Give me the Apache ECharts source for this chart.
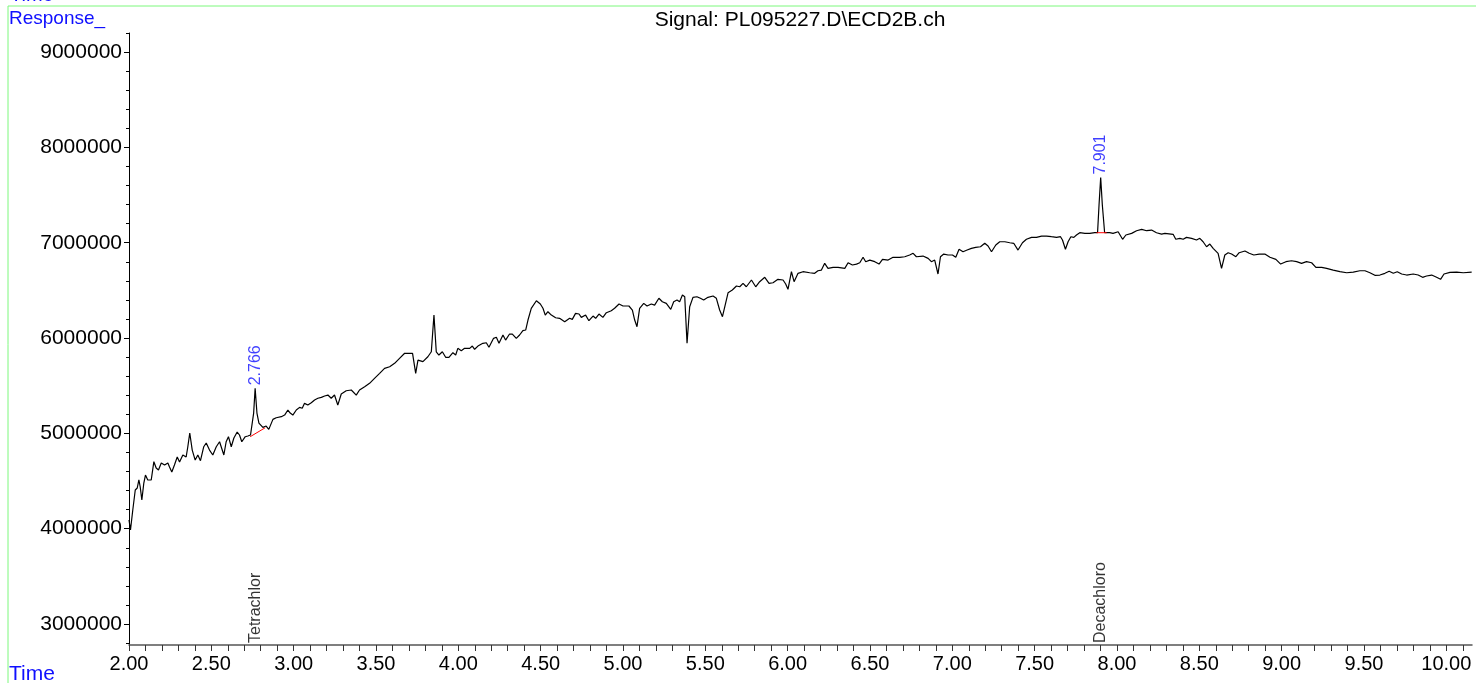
<!DOCTYPE html>
<html><head><meta charset="utf-8">
<script src="https://cdn.jsdelivr.net/npm/echarts@6/dist/echarts.min.js"></script>
<style>html,body{margin:0;padding:0;background:#fff;overflow:hidden}#c{width:1476px;height:683px}</style>
</head><body><div id="c"></div><script>
// Retention time (min)
const times = [
2.000,2.009,2.023,2.038,2.050,2.060,2.068,2.078,2.090,2.100,
2.114,2.135,2.151,2.165,2.179,2.196,2.216,2.236,2.246,2.260,
2.276,2.293,2.307,2.327,2.347,2.357,2.369,2.384,2.402,2.418,
2.434,2.454,2.469,2.489,2.509,2.530,2.550,2.576,2.590,2.604,
2.621,2.637,2.657,2.671,2.685,2.706,2.722,2.738,2.748,2.757,
2.766,2.777,2.789,2.813,2.833,2.849,2.874,2.894,2.925,2.945,
2.965,2.979,2.995,3.016,3.036,3.052,3.066,3.086,3.107,3.127,
3.147,3.168,3.188,3.208,3.228,3.248,3.268,3.289,3.319,3.350,
3.380,3.400,3.431,3.461,3.491,3.522,3.552,3.583,3.613,3.643,
3.674,3.704,3.722,3.741,3.755,3.785,3.815,3.836,3.852,3.866,
3.882,3.903,3.923,3.943,3.967,3.984,3.997,4.018,4.038,4.069,
4.085,4.099,4.119,4.149,4.170,4.186,4.214,4.231,4.247,4.271,
4.287,4.311,4.328,4.352,4.372,4.392,4.409,4.423,4.443,4.474,
4.498,4.514,4.528,4.544,4.565,4.591,4.615,4.646,4.676,4.692,
4.712,4.733,4.747,4.773,4.793,4.818,4.834,4.854,4.878,4.899,
4.929,4.949,4.976,5.000,5.036,5.057,5.071,5.085,5.101,5.126,
5.146,5.172,5.192,5.218,5.239,5.263,5.290,5.308,5.328,5.344,
5.361,5.375,5.389,5.405,5.425,5.449,5.470,5.490,5.516,5.547,
5.567,5.587,5.604,5.618,5.638,5.664,5.689,5.709,5.729,5.749,
5.780,5.806,5.830,5.861,5.887,5.911,5.941,5.972,5.988,6.002,
6.023,6.039,6.063,6.093,6.134,6.164,6.184,6.205,6.225,6.245,
6.276,6.306,6.347,6.367,6.393,6.418,6.438,6.458,6.474,6.499,
6.529,6.555,6.576,6.610,6.640,6.681,6.711,6.741,6.762,6.782,
6.822,6.853,6.873,6.893,6.913,6.928,6.948,6.974,7.001,7.021,
7.041,7.065,7.090,7.116,7.142,7.171,7.197,7.217,7.238,7.264,
7.288,7.319,7.349,7.373,7.399,7.426,7.450,7.481,7.511,7.542,
7.572,7.602,7.633,7.657,7.669,7.687,7.703,7.720,7.738,7.754,
7.774,7.805,7.835,7.865,7.882,7.891,7.901,7.911,7.925,7.956,
7.976,8.007,8.034,8.054,8.089,8.119,8.150,8.180,8.210,8.240,
8.271,8.291,8.341,8.357,8.382,8.402,8.422,8.453,8.483,8.503,
8.523,8.544,8.564,8.584,8.614,8.635,8.655,8.675,8.696,8.722,
8.742,8.777,8.803,8.831,8.864,8.898,8.929,8.965,8.994,9.026,
9.060,9.091,9.121,9.151,9.182,9.208,9.243,9.273,9.313,9.354,
9.395,9.435,9.475,9.506,9.536,9.566,9.597,9.627,9.653,9.678,
9.702,9.729,9.759,9.799,9.829,9.856,9.880,9.911,9.941,9.965,
9.986,10.022,10.063,10.103,10.154
];
// Detector response
const signal = [
4091000,3986000,4196000,4406000,4427000,4511000,4440000,4301000,4479000,4563000,
4511000,4511000,4703000,4636000,4615000,4689000,4668000,4689000,4647000,4594000,
4668000,4752000,4699000,4773000,4752000,4857000,5004000,4825000,4720000,4773000,
4713000,4860000,4899000,4825000,4773000,4860000,4912000,4773000,4912000,4965000,
4860000,4951000,5014000,4983000,4912000,4965000,4972000,4983000,5000000,5213000,
5473000,5213000,5108000,5063000,5077000,5042000,5147000,5164000,5175000,5192000,
5245000,5213000,5192000,5245000,5273000,5263000,5315000,5297000,5321000,5350000,
5368000,5378000,5392000,5402000,5368000,5402000,5297000,5413000,5447000,5455000,
5402000,5455000,5489000,5525000,5577000,5630000,5682000,5699000,5735000,5787000,
5840000,5840000,5840000,5630000,5769000,5752000,5804000,5856000,6241000,5856000,
5822000,5856000,5798000,5798000,5846000,5822000,5892000,5867000,5892000,5892000,
5916000,5882000,5916000,5945000,5951000,5903000,5997000,6008000,5945000,6032000,
5979000,6042000,6042000,5997000,6032000,6077000,6084000,6189000,6312000,6391000,
6357000,6312000,6241000,6276000,6241000,6213000,6207000,6171000,6207000,6196000,
6259000,6252000,6217000,6241000,6182000,6231000,6207000,6252000,6217000,6266000,
6287000,6312000,6357000,6336000,6336000,6294000,6189000,6119000,6312000,6364000,
6336000,6357000,6346000,6417000,6381000,6364000,6301000,6381000,6399000,6381000,
6451000,6433000,5945000,6328000,6427000,6433000,6417000,6399000,6427000,6441000,
6417000,6294000,6224000,6328000,6475000,6504000,6546000,6538000,6574000,6538000,
6609000,6538000,6591000,6637000,6574000,6580000,6616000,6609000,6567000,6511000,
6696000,6591000,6679000,6696000,6685000,6679000,6706000,6713000,6784000,6731000,
6742000,6742000,6731000,6790000,6766000,6776000,6790000,6847000,6801000,6818000,
6801000,6776000,6826000,6818000,6847000,6847000,6853000,6871000,6889000,6853000,
6860000,6836000,6801000,6818000,6672000,6853000,6881000,6871000,6871000,6847000,
6931000,6905000,6923000,6941000,6952000,6958000,6994000,6965000,6905000,6976000,
7010000,7010000,7000000,6994000,6923000,7000000,7036000,7056000,7056000,7070000,
7070000,7063000,7056000,7063000,7028000,6931000,7010000,7063000,7056000,7081000,
7105000,7098000,7098000,7105000,7105000,7395000,7684000,7395000,7105000,7105000,
7098000,7115000,7036000,7081000,7098000,7126000,7140000,7126000,7133000,7105000,
7091000,7098000,7088000,7036000,7046000,7036000,7056000,7046000,7028000,7046000,
7010000,6958000,6986000,6941000,6889000,6731000,6871000,6895000,6881000,6853000,
6895000,6913000,6889000,6871000,6881000,6881000,6847000,6826000,6776000,6801000,
6811000,6801000,6784000,6801000,6790000,6742000,6742000,6731000,6713000,6696000,
6685000,6692000,6706000,6706000,6685000,6658000,6661000,6679000,6700000,6679000,
6696000,6672000,6661000,6672000,6661000,6637000,6651000,6661000,6637000,6616000,
6672000,6689000,6692000,6685000,6692000
];
// Integrated peaks
const peakTimes = [2.766, 7.901];
const peakValues = [5473000, 7684000];
const peakLabels = ['2.766', '7.901'];
const compoundNames = ['Tetrachlor', 'Decachloro'];
// Integration baselines (start/end time and response)
const baseline1Times = [2.736, 2.827];
const baseline1Values = [4965000, 5059000];
const baseline2Times = [7.876, 7.937];
const baseline2Values = [7105000, 7105000];
// Axes
const xMin = 2.0, xMax = 10.156;
const yMin = 2780000, yMax = 9200000;
const xTickLabels = [2.0, 2.5, 3.0, 3.5, 4.0, 4.5, 5.0, 5.5, 6.0, 6.5, 7.0, 7.5, 8.0, 8.5, 9.0, 9.5, 10.0];
const yTickLabels = [3000000, 4000000, 5000000, 6000000, 7000000, 8000000, 9000000];
const xMinorTicks = [];
for (let i = 20; i <= 101; i++) xMinorTicks.push(i / 10);
const yMinorTicks = [];
for (let i = 14; i <= 46; i++) yMinorTicks.push(i * 200000);

const FONT = 'Liberation Sans, Arial, Helvetica, sans-serif';
const BLUE = '#0f0fff';
const n = Math.min(times.length, signal.length);
const trace = [];
for (let i = 0; i < n; i++) trace.push([times[i], signal[i]]);
const zip = (a, b) => a.map((v, i) => [v, b[i]]);

const chart = echarts.init(document.getElementById('c'), null, {renderer: 'canvas'});
chart.setOption({
  animation: false,
  backgroundColor: '#fff',
  grid: {left: 129, right: 4, top: 33, bottom: 38, containLabel: false},
  xAxis: {
    type: 'value', min: xMin, max: xMax,
    axisLine: {show: true, onZero: false, lineStyle: {color: '#555', width: 1.5}},
    axisTick: {show: true, inside: false, length: 6, customValues: xMinorTicks, lineStyle: {color: '#333', width: 1}},
    axisLabel: {show: true, customValues: xTickLabels, margin: 9, color: '#000', fontSize: 20, fontFamily: FONT,
      formatter: v => v.toFixed(2)},
    splitLine: {show: false}
  },
  yAxis: [{
    type: 'value', min: yMin, max: yMax, position: 'left',
    axisLine: {show: true, onZero: false, lineStyle: {color: '#000', width: 1}},
    axisTick: {show: true, length: 5, customValues: yTickLabels, lineStyle: {color: '#000'}},
    axisLabel: {show: true, customValues: yTickLabels, margin: 7, color: '#000', fontSize: 21, fontFamily: FONT,
      formatter: v => String(v)},
    splitLine: {show: false}
  }, {
    type: 'value', min: yMin, max: yMax, position: 'left',
    axisLine: {show: false},
    axisTick: {show: true, length: 3, customValues: yMinorTicks, lineStyle: {color: '#000'}},
    axisLabel: {show: false},
    splitLine: {show: false}
  }],
  series: [{
    type: 'line', data: trace, showSymbol: false, symbol: 'none', smooth: false,
    lineStyle: {color: '#000', width: 1.2}, z: 3
  }, {
    type: 'line', data: zip(baseline1Times, baseline1Values), showSymbol: false, symbol: 'none',
    lineStyle: {color: '#ff0000', width: 1}, z: 4
  }, {
    type: 'line', data: zip(baseline2Times, baseline2Values), showSymbol: false, symbol: 'none',
    lineStyle: {color: '#ff0000', width: 1}, z: 4
  }, {
    type: 'scatter', data: zip(peakTimes, peakValues), symbolSize: 0, clip: false, silent: true,
    label: {show: true, position: 'top', distance: 3, rotate: 90, align: 'left', verticalAlign: 'middle',
      color: BLUE, fontSize: 16, fontFamily: FONT, formatter: p => peakLabels[p.dataIndex]}
  }, {
    type: 'scatter', data: peakTimes.map(t => [t, yMin]), symbolSize: 0, clip: false, silent: true,
    label: {show: true, position: 'top', distance: 2, rotate: 90, align: 'left', verticalAlign: 'middle',
      color: '#000', fontSize: 16, fontFamily: FONT, formatter: p => compoundNames[p.dataIndex]}
  }],
  graphic: [
    {type: 'line', shape: {x1: 8, y1: 6, x2: 1476, y2: 6}, style: {stroke: '#7cf87c', lineWidth: 1}, silent: true},
    {type: 'line', shape: {x1: 8, y1: 6, x2: 8, y2: 683}, style: {stroke: '#7cf87c', lineWidth: 1}, silent: true},
    {type: 'text', x: 10, y: -5, style: {text: 'Time', fill: BLUE, font: '20px ' + FONT, textVerticalAlign: 'middle'}, silent: true},
    {type: 'text', x: 9, y: 19, style: {text: 'Response_', fill: BLUE, font: '19px ' + FONT, textVerticalAlign: 'middle'}, silent: true},
    {type: 'text', x: 9, y: 674, style: {text: 'Time', fill: BLUE, font: '21px ' + FONT, textVerticalAlign: 'middle'}, silent: true},
    {type: 'text', x: 800, y: 20, style: {text: 'Signal: PL095227.D\\ECD2B.ch', fill: '#000', font: '21px ' + FONT,
      textAlign: 'center', textVerticalAlign: 'middle'}, silent: true}
  ]
});
</script></body></html>
